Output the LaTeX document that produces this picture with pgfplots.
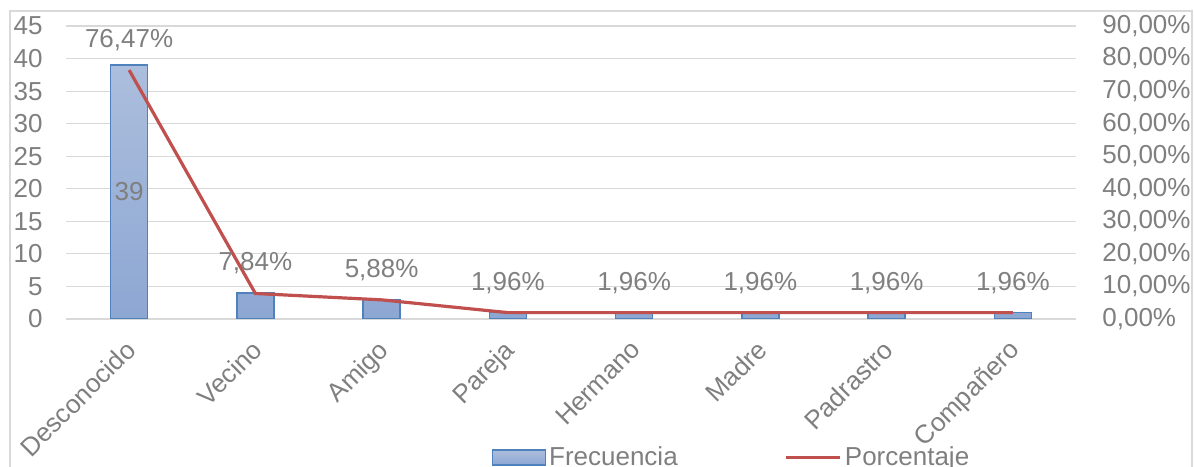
\documentclass[border=0pt]{standalone}
\usepackage{fontspec}
\setmainfont{Liberation Sans}
\usepackage{pgfplots}
\usepackage{pgfplotstable}
\pgfplotsset{compat=1.18}
\definecolor{gridgray}{RGB}{217,217,217}
\definecolor{txtgray}{RGB}{127,127,127}
\definecolor{bartop}{RGB}{172,190,221}
\definecolor{barbot}{RGB}{141,167,211}
\definecolor{baredge}{RGB}{79,129,189}
\definecolor{linered}{RGB}{192,80,77}
\newcommand\chfont{\fontsize{13}{15.6}\selectfont}

% Frecuencia y porcentaje por tipo de agresor
\pgfplotstableread{
x freq pct
0 39 76.47
1 4 7.84
2 3 5.88
3 1 1.96
4 1 1.96
5 1 1.96
6 1 1.96
7 1 1.96
}\datos

\begin{document}
\begin{tikzpicture}[font=\chfont]
\clip (0,0) rectangle (597pt,233pt);
\draw[gridgray, line width=0.6pt] (5pt,-10pt) rectangle (596pt,227.5pt);
\pgfplotsset{
  common/.style={
    scale only axis, width=505pt, height=146.5pt,
    at={(33pt,73.5pt)}, anchor=south west,
    xmin=-0.5, xmax=7.5,
    axis line style={draw=none},
    major tick length=0pt,
    tick label style={text=txtgray, font=\chfont},
    /pgf/number format/assume math mode=true,
  }
}
\begin{axis}[common,
  ymin=0, ymax=45, ytick={0,5,...,45},
  ymajorgrids, grid style={gridgray, line width=0.6pt},
  xtick=data,
  xticklabels={Desconocido,Vecino,Amigo,Pareja,Hermano,Madre,Padrastro,Compañero},
  xticklabel style={inner sep=0pt, xshift=-2.5pt, yshift=-9.5pt, rotate=45, anchor=north east},
  yticklabel style={inner sep=0pt, anchor=east, xshift=-11.5pt},
  ybar, bar width=18.5pt,
]
\addplot[draw=baredge, line width=0.75pt, top color=bartop, bottom color=barbot]
  table[x=x, y=freq]{\datos};
\node[text=txtgray, font=\chfont] at (axis cs:0,19.5) {39};
\end{axis}
\begin{axis}[common,
  ymin=0, ymax=90, ytick={0,10,...,90},
  axis y line*=right, xtick=\empty,
  yticklabel={\pgfmathprintnumber[fixed,fixed zerofill,precision=2,use comma]{\tick}\%},
  yticklabel style={inner sep=0pt, anchor=west, xshift=13pt},
  clip=false,
  legend columns=2,
  legend style={at={(0.421,-0.4725)}, anchor=west, draw=none, fill=none,
    inner sep=0pt, font=\chfont,
    nodes={text=txtgray, inner sep=1.5pt},
    /tikz/every even column/.append style={column sep=52pt}},
]
\addlegendimage{legend image code/.code={\draw[draw=baredge, line width=0.75pt, top color=bartop, bottom color=barbot] (0pt,-3.75pt) rectangle (26.5pt,3.75pt);}}
\addlegendentry{Frecuencia}
\addplot[linered, line width=1.6pt,
  legend image code/.code={\draw[linered, line width=1.6pt] (0pt,0pt) -- (27pt,0pt);},
  point meta=y,
  nodes near coords={\pgfmathprintnumber[fixed,fixed zerofill,precision=2,use comma]{\pgfplotspointmeta}\%},
  every node near coord/.append style={text=txtgray, anchor=center, yshift=15pt, font=\chfont},
] table[x=x, y=pct]{\datos};
\addlegendentry{Porcentaje}
\end{axis}
\end{tikzpicture}
\end{document}
